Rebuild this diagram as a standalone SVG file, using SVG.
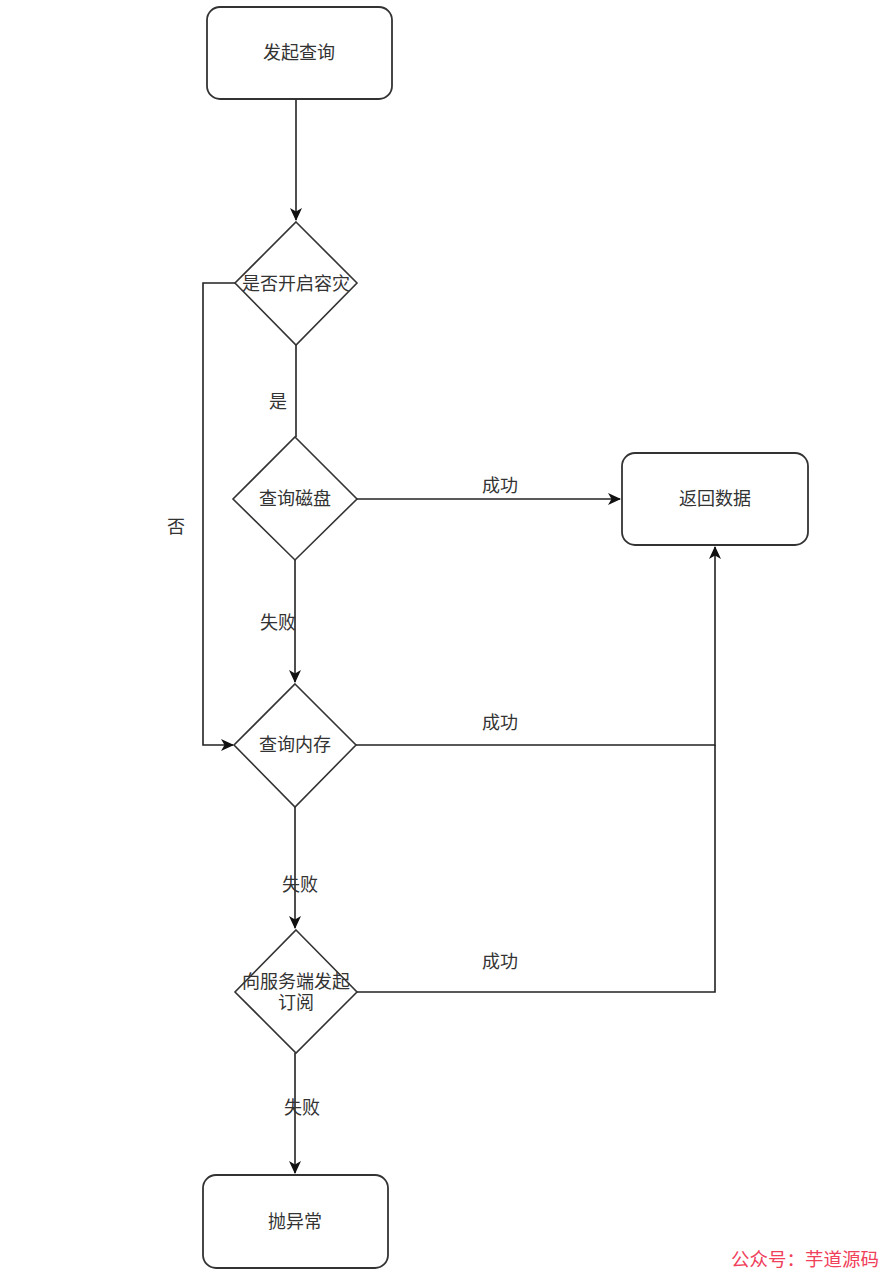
<svg xmlns="http://www.w3.org/2000/svg" width="894" height="1280" viewBox="0 0 894 1280">
<style>
.box{fill:#fff;stroke:#333;stroke-width:1.8}
.dia{fill:#fff;stroke:#333;stroke-width:1.6}
.t{font-family:"Liberation Sans","Noto Sans CJK SC",sans-serif;font-size:18px;fill:#333;text-anchor:middle;dominant-baseline:central}
.e{fill:none;stroke:#222;stroke-width:1.6}
.wm{font-family:"Noto Sans CJK SC",sans-serif;font-size:18.5px;fill:#f0405a;text-anchor:start;dominant-baseline:central}
</style>
<defs>
<marker id="arr" markerWidth="14" markerHeight="12" refX="12" refY="6" orient="auto" markerUnits="userSpaceOnUse">
<path d="M0,0 L13,6 L0,12 L3.5,6 z" fill="#111"/>
</marker>
</defs>
<rect width="894" height="1280" fill="#fff"/>
<g id="connectors">
<path class="e" d="M296,99 L296,220" marker-end="url(#arr)"/>
<path class="e" d="M235,283 L203,283 L203,745 L233,745" marker-end="url(#arr)"/>
<path class="e" d="M296,345 L296,437"/>
<path class="e" d="M357,499 L620,499" marker-end="url(#arr)"/>
<path class="e" d="M295,560 L295,682" marker-end="url(#arr)"/>
<path class="e" d="M356,745 L715,745 L715,547" marker-end="url(#arr)"/>
<path class="e" d="M295,807 L295,928" marker-end="url(#arr)"/>
<path class="e" d="M357,992 L715,992 L715,745"/>
<path class="e" d="M295,1053 L295,1173" marker-end="url(#arr)"/>
<text class="t" x="176" y="527">否</text>
<text class="t" x="278" y="402">是</text>
<text class="t" x="500" y="486">成功</text>
<text class="t" x="278" y="623">失败</text>
<text class="t" x="500" y="723">成功</text>
<text class="t" x="300" y="885">失败</text>
<text class="t" x="500" y="962">成功</text>
<text class="t" x="302" y="1108">失败</text>
</g>
<g id="start"><rect class="box" x="207" y="7" width="185" height="92" rx="13"/><text class="t" x="299" y="53">发起查询</text></g>
<g id="d1"><path class="dia" d="M296,222 L357,283 L296,345 L235,283 z"/><text class="t" x="296" y="284">是否开启容灾</text></g>
<g id="d2"><path class="dia" d="M295,437 L357,499 L295,560 L233,499 z"/><text class="t" x="295" y="499">查询磁盘</text></g>
<g id="ret"><rect class="box" x="622" y="453" width="186" height="92" rx="13"/><text class="t" x="715" y="499">返回数据</text></g>
<g id="d3"><path class="dia" d="M295,684 L356,745 L295,807 L234,745 z"/><text class="t" x="295" y="745">查询内存</text></g>
<g id="d4"><path class="dia" d="M296,930 L357,992 L296,1053 L235,992 z"/><text class="t" x="296" y="982">向服务端发起</text><text class="t" x="296" y="1003">订阅</text></g>
<g id="end"><rect class="box" x="203" y="1175" width="185" height="93" rx="13"/><text class="t" x="295" y="1222">抛异常</text></g>
<text class="wm" x="731" y="1258">公众号：芋道源码</text>
</svg>
